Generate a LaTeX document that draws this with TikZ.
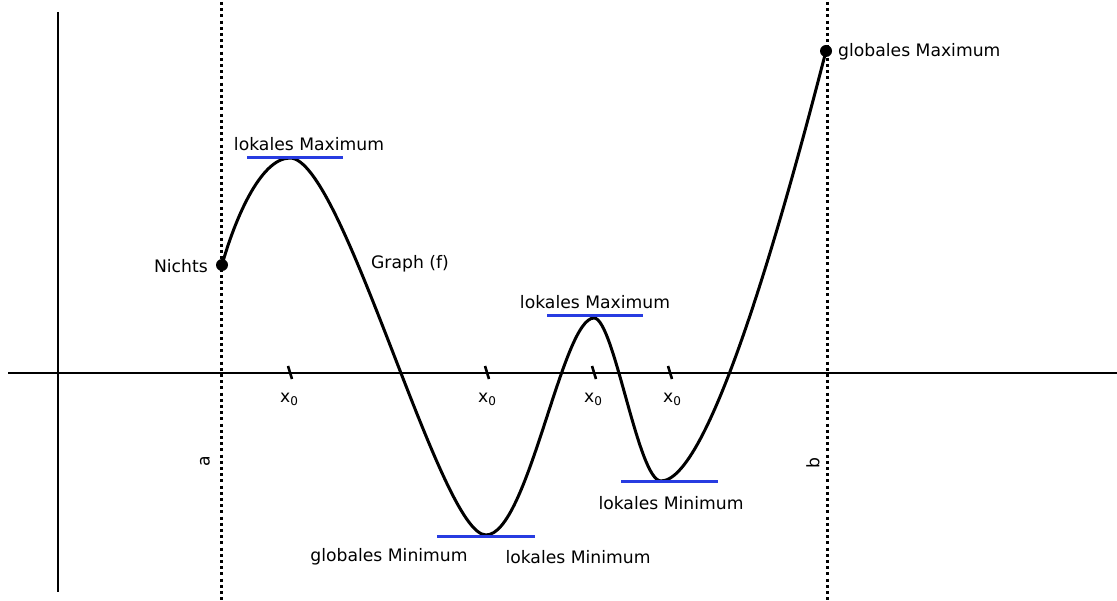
\documentclass[tikz,border=0pt]{standalone}
\usepackage{fontspec}
\setmainfont{DejaVu Sans}
\definecolor{tanblue}{RGB}{40,60,225}
\begin{document}
\begin{tikzpicture}[x=1pt,y=-1pt,
  lbl/.style={font=\fontsize{17.2}{19}\selectfont, inner sep=0pt},
  dotline/.style={line width=3pt, dash pattern=on 3pt off 3.2pt},
  axis/.style={line width=1.6pt},
  hbar/.style={tanblue, line width=3pt},
  curve/.style={line width=3pt},
  tick/.style={line width=2.6pt},
  pt/.style={circle, fill=black, inner sep=0pt, minimum size=12pt}]
\useasboundingbox (0,0) rectangle (1117,601);
% axes
\coordinate (xl) at (8,373); \coordinate (xr) at (1117,373);
\coordinate (yt) at (58,12); \coordinate (yb) at (58,592);
\draw[axis] (xl) -- (xr);
\draw[axis] (yt) -- (yb);
% dotted bounds
\coordinate (at) at (221,2); \coordinate (ab) at (221,601);
\coordinate (bt) at (827,2); \coordinate (bb) at (827,601);
\draw[dotline] (at) -- (ab);
\draw[dotline] (bt) -- (bb);
% curve
\coordinate (p0) at (222,265);
\coordinate (p1) at (290,158);
\coordinate (p2) at (486,535);
\coordinate (p3) at (594,318);
\coordinate (p4) at (661,481);
\coordinate (p5) at (826,51);
\draw[curve] (p0) .. controls (234,222) and (260,158) .. (p1)
  .. controls (343,158) and (440,535) .. (p2)
  .. controls (528,535) and (562,318) .. (p3)
  .. controls (614,318) and (638,481) .. (p4)
  .. controls (712,481) and (790,190) .. (p5);
\node[pt] (na) at (p0) {};
\node[pt] (nb) at (p5) {};
% blue tangents
\draw[hbar] (247,158) -- (343,158);
\draw[hbar] (437,536) -- (535,536);
\draw[hbar] (547,316) -- (643,316);
\draw[hbar] (621,482) -- (718,482);
% ticks
\foreach \x in {290,487,594,670}{\draw[tick] (\x-2,366) -- (\x+2,379);}
\foreach \x in {289,487,593,672}{\node[lbl] at (\x,399) {x\raisebox{-3pt}{\fontsize{12}{12}\selectfont 0}};}
% labels
\node[lbl] (l1) at (309,144) {lokales Maximum};
\node[lbl, anchor=east] (l2) at (208,266) {Nichts};
\node[lbl] (l3) at (410,264) {Graph (f)};
\node[lbl] (l4) at (595,302) {lokales Maximum};
\node[lbl] (l5) at (671,503) {lokales Minimum};
\node[lbl] (l6) at (389,557) {globales Minimum};
\node[lbl] (l7) at (578,557) {lokales Minimum};
\node[lbl, anchor=west] (l8) at (838,52) {globales Maximum};
\node[lbl, rotate=90] (la) at (205,461) {a};
\node[lbl, rotate=90] (lb) at (813,463) {b};
\end{tikzpicture}
\end{document}
